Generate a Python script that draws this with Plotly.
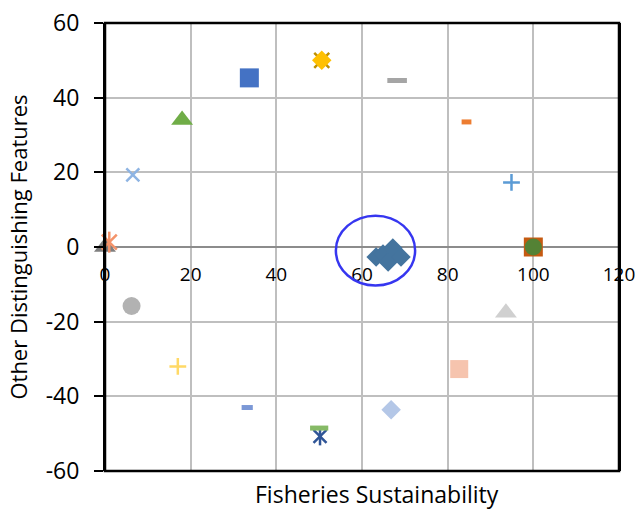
import plotly.graph_objects as go

# ---- data -------------------------------------------------------------
# Fisheries sustainability (x) versus other distinguishing features (y)
names = [
    "A", "B", "C", "D", "E", "F", "G", "H", "I", "J", "K",
    "L", "M", "N", "O", "P", "Q", "R", "S", "T",
]
x_vals = [
    33.7, 50.6, 50.6, 18.0, 6.5, 68.2, 84.4, 94.9, 1.0, 0.0, 6.2,
    17.0, 33.2, 50.0, 50.2, 66.8, 82.7, 93.6, 100.0, 100.0,
]
y_vals = [
    45.3, 50.0, 50.0, 34.0, 19.3, 44.6, 33.5, 17.3, 1.3, 0.0, -15.8,
    -32.0, -43.0, -48.5, -50.7, -43.6, -32.7, -17.6, 0.0, 0.0,
]

# cluster of closely spaced points
cluster_x = [63.3, 64.9, 66.1, 67.2, 69.1]
cluster_y = [-2.7, -1.9, -4.0, -0.3, -2.7]

# highlighted region around the cluster
ring_x = [53.9, 72.4]
ring_y = [-10.3, 8.4]

x_ticks = [0, 20, 40, 60, 80, 100, 120]
y_ticks = [-60, -40, -20, 0, 20, 40, 60]

# ---- marker styles (symbol, size, colour, line width) -----------------
styles = {
    "A": ("square", 19, "#4472C4", 0),
    "B": ("x-thin-open", 15, "#BF9000", 2.5),
    "C": ("diamond", 15, "#FFC000", 0),
    "D": ("triangle-up", 19, "#70AD47", 0),
    "E": ("x-thin-open", 13, "#8EB4E3", 2.5),
    "F": ("line-ew-open", 14, "#A5A5A5", 5),
    "G": ("line-ew-open", 7, "#ED7D31", 5),
    "H": ("cross-thin-open", 12, "#5B9BD5", 2.5),
    "I": ("star", 15, "#F4936A", 2.5),
    "J": ("triangle-up", 19, "#7F7F7F", 0),
    "K": ("circle", 18, "#B2B2B2", 0),
    "L": ("cross-thin-open", 12, "#FFD966", 2.5),
    "M": ("line-ew-open", 8, "#7B98D6", 5),
    "N": ("line-ew-open", 13, "#86BA66", 5),
    "O": ("star", 13, "#2F5597", 2.5),
    "P": ("diamond", 15, "#B4C7E7", 0),
    "Q": ("square", 18, "#F6C4AE", 0),
    "R": ("triangle-up", 19, "#D0D0D0", 0),
    "S": ("square", 19, "#C55A11", 0),
    "T": ("circle", 17, "#548235", 0),
}

fig = go.Figure()

# the diamond cluster sits beneath the single points
fig.add_trace(go.Scatter(
    x=cluster_x, y=cluster_y, mode="markers", cliponaxis=False,
    marker=dict(symbol="diamond", size=15, color="#44749E"),
    showlegend=False, hoverinfo="skip",
))

# draw order puts N above O so the dash covers the star's top
order = ["A", "B", "C", "D", "E", "F", "G", "H", "J", "I", "K",
         "L", "M", "O", "N", "P", "Q", "R", "S", "T"]
for key in order:
    i = names.index(key)
    sym, size, color, lw = styles[key]
    if sym == "star":
        # x with a vertical stroke
        parts = [("x-thin-open", size), ("line-ns-open", size)]
    else:
        parts = [(sym, size)]
    for s, sz in parts:
        marker = dict(symbol=s, size=sz, color=color)
        if s.endswith("-open"):
            marker["line"] = dict(color=color, width=lw)
        else:
            marker["line"] = dict(width=0)
        fig.add_trace(go.Scatter(
            x=[x_vals[i]], y=[y_vals[i]], mode="markers", cliponaxis=False,
            marker=marker, showlegend=False, name=key,
        ))

font_family = "Open Sans, DejaVu Sans, sans-serif"

fig.update_layout(
    width=635, height=510,
    margin=dict(l=105, r=16, t=23, b=39, autoexpand=False),
    paper_bgcolor="white", plot_bgcolor="white",
    font=dict(family=font_family, size=23, color="#000000"),
    showlegend=False,
    xaxis=dict(
        range=[0, 120], tickvals=x_ticks, ticktext=[str(v) for v in x_ticks],
        anchor="free", position=0.5, automargin=False,
        showline=False, ticks="", ticklabelstandoff=14,
        ticklabeloverflow="allow",
        showgrid=True, gridcolor="#BFBFBF", gridwidth=1.5,
        zeroline=False, fixedrange=True,
        tickfont=dict(size=19),
    ),
    yaxis=dict(
        range=[-60, 60], tickvals=y_ticks, ticktext=[str(v) for v in y_ticks],
        showline=True, linecolor="#000000", linewidth=2, mirror=True,
        ticks="outside", ticklen=9, tickwidth=1.5, tickcolor="#000000",
        ticklabelstandoff=10, automargin=False,
        showgrid=True, gridcolor="#BFBFBF", gridwidth=1.5,
        zeroline=True, zerolinecolor="#8C8C8C", zerolinewidth=2,
        title=dict(text="Other Distinguishing Features",
                   font=dict(size=22), standoff=12),
        fixedrange=True,
        tickfont=dict(size=23),
    ),
    shapes=[
        # plot-area frame
        dict(type="rect", xref="paper", yref="paper",
             x0=0, x1=1, y0=0, y1=1, layer="above",
             line=dict(color="#000000", width=2.5), fillcolor="rgba(0,0,0,0)"),
        # ring around the cluster
        dict(type="circle", xref="x", yref="y",
             x0=ring_x[0], x1=ring_x[1], y0=ring_y[0], y1=ring_y[1],
             line=dict(color="#3636F0", width=2.5), layer="above"),
    ],
    annotations=[
        dict(text="Fisheries Sustainability", xref="paper", yref="paper",
             x=0.53, y=-0.052, xanchor="center", yanchor="middle",
             showarrow=False, font=dict(size=23)),
    ],
)

fig.write_html("out.html")
